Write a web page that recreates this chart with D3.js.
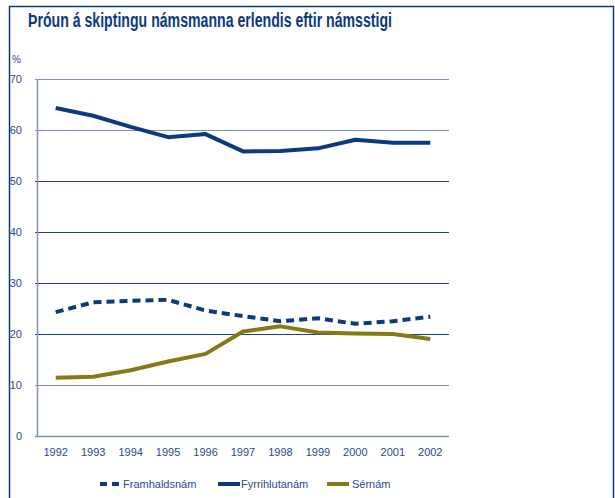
<!DOCTYPE html>
<meta charset="utf-8">
<style>
  body { margin: 0; background: #fff; }
  text { font-family: "Liberation Sans", Arial, sans-serif; }
</style>
<svg width="615" height="498"></svg>
<script src="https://cdn.jsdelivr.net/npm/d3@7"></script>
<script>

var years = ["1992", "1993", "1994", "1995", "1996", "1997", "1998", "1999", "2000", "2001", "2002"];
var framhaldsnam = [24.3, 26.2, 26.5, 26.7, 24.6, 23.5, 22.5, 23.1, 22.0, 22.5, 23.4];
var fyrrihlutanam = [64.3, 62.8, 60.6, 58.6, 59.2, 55.8, 55.9, 56.4, 58.1, 57.5, 57.5];
var sernam = [11.4, 11.6, 12.9, 14.6, 16.1, 20.5, 21.5, 20.3, 20.1, 20.0, 19.0];
var yTicks = [0, 10, 20, 30, 40, 50, 60, 70];

var navy = "#0d3a7e",
    olive = "#857a14",
    axisGrey = "#7f93bd",
    labelBlue = "#2b4a8c";

var svg = d3.select("svg");

// frame
svg.append("path")
    .attr("d", "M9.5,498 V6.5 H613.5 V498")
    .attr("fill", "none")
    .attr("stroke", navy)
    .attr("stroke-width", 1.5);

svg.append("text")
    .attr("x", 28)
    .attr("y", 27)
    .attr("fill", navy)
    .attr("font-size", 20)
    .attr("font-weight", "bold")
    .attr("textLength", 364)
    .attr("lengthAdjust", "spacingAndGlyphs")
    .text("Þróun á skiptingu námsmanna erlendis eftir námsstigi");

svg.append("text")
    .attr("x", 12)
    .attr("y", 63)
    .attr("fill", labelBlue)
    .attr("font-size", 10)
    .text("%");

var x = d3.scalePoint()
    .domain(years)
    .range([37, 449])
    .padding(0.5);

var y = d3.scaleLinear()
    .domain([0, 70])
    .range([436, 79]);

// gridlines
svg.append("g")
  .selectAll("line")
  .data(yTicks.filter(function(d) { return d > 0; }))
  .enter().append("line")
    .attr("x1", 35)
    .attr("x2", 449)
    .attr("y1", function(d) { return Math.round(y(d)) + 0.5; })
    .attr("y2", function(d) { return Math.round(y(d)) + 0.5; })
    .attr("stroke", function(d) { return (d >= 60 || d == 10) ? axisGrey : "#1f4186"; })
    .attr("stroke-width", 1);

// axes
svg.append("line")
    .attr("x1", 37.5).attr("x2", 37.5)
    .attr("y1", 79).attr("y2", 437)
    .attr("stroke", axisGrey)
    .attr("stroke-width", 1.5);

svg.append("line")
    .attr("x1", 35).attr("x2", 449)
    .attr("y1", 436.5).attr("y2", 436.5)
    .attr("stroke", axisGrey)
    .attr("stroke-width", 1.5);

svg.append("g")
  .selectAll("text")
  .data(yTicks)
  .enter().append("text")
    .attr("x", 22)
    .attr("y", function(d) { return y(d) + 4; })
    .attr("text-anchor", "end")
    .attr("fill", labelBlue)
    .attr("font-size", 11)
    .text(function(d) { return d; });

svg.append("g")
  .selectAll("text")
  .data(years)
  .enter().append("text")
    .attr("x", function(d) { return x(d); })
    .attr("y", 456)
    .attr("text-anchor", "middle")
    .attr("fill", labelBlue)
    .attr("font-size", 11)
    .text(function(d) { return d; });

var line = d3.line()
    .x(function(d, i) { return x(years[i]); })
    .y(function(d) { return y(d); });

var series = [
  {name: "Framhaldsnám", values: framhaldsnam, color: navy, dash: "8,5"},
  {name: "Fyrrihlutanám", values: fyrrihlutanam, color: navy, dash: null},
  {name: "Sérnám", values: sernam, color: olive, dash: null}
];

svg.append("g")
  .selectAll("path")
  .data(series)
  .enter().append("path")
    .attr("d", function(d) { return line(d.values); })
    .attr("fill", "none")
    .attr("stroke", function(d) { return d.color; })
    .attr("stroke-width", 4)
    .attr("stroke-linejoin", "round")
    .attr("stroke-dasharray", function(d) { return d.dash; });

// legend
var legendX = [100, 218, 327];
var legend = svg.append("g")
  .selectAll("g")
  .data(series)
  .enter().append("g")
    .attr("transform", function(d, i) { return "translate(" + legendX[i] + ",484)"; });

legend.append("line")
    .attr("x1", 0)
    .attr("x2", function(d, i) { return i == 0 ? 19 : 22; })
    .attr("y1", 0).attr("y2", 0)
    .attr("stroke", function(d) { return d.color; })
    .attr("stroke-width", 4)
    .attr("stroke-dasharray", function(d) { return d.dash ? "7,5" : null; });

legend.append("text")
    .attr("x", function(d, i) { return i == 2 ? 25 : 23; })
    .attr("y", 4)
    .attr("fill", labelBlue)
    .attr("font-size", 11)
    .text(function(d) { return d.name; });

</script>
